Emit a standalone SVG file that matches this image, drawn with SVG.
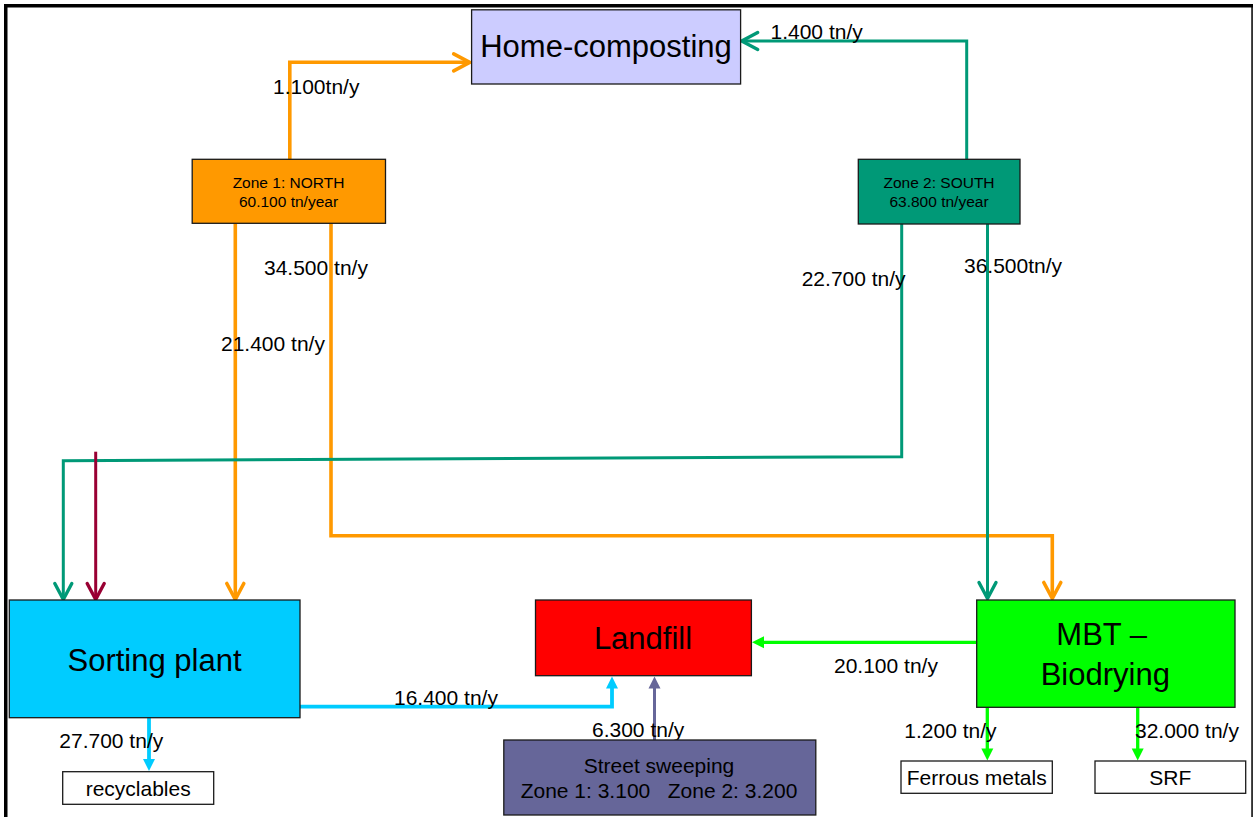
<svg xmlns="http://www.w3.org/2000/svg" width="1255" height="817" viewBox="0 0 1255 817">
  <style>
    .box { stroke: #1a1a1a; stroke-width: 1.3; }
    .t { font-family: "Liberation Sans", Arial, sans-serif; fill: #000; }
    .big { font-size: 31px; text-anchor: middle; }
    .mid { font-size: 21px; text-anchor: middle; }
    .zone { font-size: 15.5px; text-anchor: middle; }
    .lbl { font-size: 21px; }
    .flow { fill: none; stroke-linejoin: miter; }
    .orange { stroke: #FF9900; stroke-width: 3.6; }
    .teal { stroke: #009977; stroke-width: 3; }
    .wine { stroke: #990033; stroke-width: 3; }
    .cyan { stroke: #00CCFF; stroke-width: 3.8; }
    .lime { stroke: #00FF00; stroke-width: 3.3; }
    .slate { stroke: #666699; stroke-width: 3; }
  </style>
  <defs>
    <!-- open chevron heads -->
    <marker id="chev-orange" markerUnits="userSpaceOnUse" markerWidth="40" markerHeight="40" refX="0" refY="0" orient="auto" overflow="visible">
      <path d="M-14,-8.5 L2,0 L-14,8.5" fill="none" stroke="#FF9900" stroke-width="3.6" stroke-linecap="round" stroke-linejoin="round"/>
    </marker>
    <marker id="chev-teal" markerUnits="userSpaceOnUse" markerWidth="40" markerHeight="40" refX="0" refY="0" orient="auto" overflow="visible">
      <path d="M-14,-8.5 L2,0 L-14,8.5" fill="none" stroke="#009977" stroke-width="3.4" stroke-linecap="round" stroke-linejoin="round"/>
    </marker>
    <marker id="chev-wine" markerUnits="userSpaceOnUse" markerWidth="40" markerHeight="40" refX="0" refY="0" orient="auto" overflow="visible">
      <path d="M-14,-8.5 L2,0 L-14,8.5" fill="none" stroke="#990033" stroke-width="3.4" stroke-linecap="round" stroke-linejoin="round"/>
    </marker>
    <!-- filled triangle heads -->
    <marker id="tri-cyan" markerUnits="userSpaceOnUse" markerWidth="30" markerHeight="30" refX="0" refY="0" orient="auto" overflow="visible">
      <path d="M-6,-6 L6,0 L-6,6 Z" fill="#00CCFF"/>
    </marker>
    <marker id="tri-lime" markerUnits="userSpaceOnUse" markerWidth="30" markerHeight="30" refX="0" refY="0" orient="auto" overflow="visible">
      <path d="M-6,-6 L6,0 L-6,6 Z" fill="#00FF00"/>
    </marker>
    <marker id="tri-slate" markerUnits="userSpaceOnUse" markerWidth="30" markerHeight="30" refX="0" refY="0" orient="auto" overflow="visible">
      <path d="M-6,-6 L6,0 L-6,6 Z" fill="#666699"/>
    </marker>
  </defs>

  <rect x="0" y="0" width="1255" height="817" fill="#fff"/>

  <!-- outer frame -->
  <g id="frame">
    <rect x="4" y="4" width="1249" height="3.5" fill="#000"/>
    <rect x="4" y="4" width="3.5" height="813" fill="#000"/>
    <rect x="1251.3" y="6" width="1.5" height="811" fill="#000"/>
  </g>

  <!-- flows -->
  <g id="connectors">
    <path class="flow orange" d="M289.8,159.3 V62.3 H467.7" marker-end="url(#chev-orange)"/>
    <path class="flow teal" d="M966.7,159.3 V41 H743.7" marker-end="url(#chev-teal)"/>
    <path class="flow orange" d="M235.3,223.3 V597.5" marker-end="url(#chev-orange)"/>
    <path class="flow orange" d="M331,223.3 V535.8 H1052.3 V596.5" marker-end="url(#chev-orange)"/>
    <path class="flow teal" d="M901.7,224 V456.7 L63.3,460.7 V597.5" marker-end="url(#chev-teal)"/>
    <path class="flow teal" d="M987.5,224 V596.5" marker-end="url(#chev-teal)"/>
    <path class="flow wine" d="M95.7,451.7 V597.5" marker-end="url(#chev-wine)"/>
    <path class="flow lime" d="M976.7,642.3 H758" marker-end="url(#tri-lime)"/>
    <path class="flow cyan" d="M300,706.7 H612 V682.5" marker-end="url(#tri-cyan)"/>
    <path class="flow slate" d="M654.5,740 V682.5" marker-end="url(#tri-slate)"/>
    <path class="flow cyan" d="M149,717.7 V765" marker-end="url(#tri-cyan)"/>
    <path class="flow lime" d="M987.3,707.3 V754.5" marker-end="url(#tri-lime)"/>
    <path class="flow lime" d="M1137.7,707.3 V754.5" marker-end="url(#tri-lime)"/>

    <g class="t lbl">
      <text x="273" y="94">1.100tn/y</text>
      <text x="770.5" y="39">1.400 tn/y</text>
      <text x="264" y="275">34.500 tn/y</text>
      <text x="221" y="350.5">21.400 tn/y</text>
      <text x="801.7" y="286">22.700 tn/y</text>
      <text x="964" y="273.3">36.500tn/y</text>
      <text x="834" y="673.3">20.100 tn/y</text>
      <text x="394" y="705">16.400 tn/y</text>
      <text x="592" y="736.7">6.300 tn/y</text>
      <text x="59.3" y="748.3">27.700 tn/y</text>
      <text x="904.3" y="737.7">1.200 tn/y</text>
      <text x="1135" y="737.7">32.000 tn/y</text>
    </g>
  </g>

  <!-- nodes -->
  <g id="home-composting">
    <rect class="box" x="471.6" y="9.8" width="269" height="74.2" fill="#CCCCFF"/>
    <text class="t big" x="606" y="57">Home-composting</text>
  </g>
  <g id="zone-north">
    <rect class="box" x="192.2" y="159.3" width="193.3" height="64" fill="#FF9900"/>
    <text class="t zone" x="288.5" y="188.3">Zone 1: NORTH</text>
    <text class="t zone" x="288.5" y="206.7">60.100 tn/year</text>
  </g>
  <g id="zone-south">
    <rect class="box" x="858.3" y="159.3" width="161.7" height="64.7" fill="#009977"/>
    <text class="t zone" x="939" y="188.3">Zone 2: SOUTH</text>
    <text class="t zone" x="939" y="207.3">63.800 tn/year</text>
  </g>
  <g id="sorting-plant">
    <rect class="box" x="9.3" y="600" width="290.7" height="117.7" fill="#00CCFF"/>
    <text class="t big" x="154.5" y="670.7">Sorting plant</text>
  </g>
  <g id="landfill">
    <rect class="box" x="535.5" y="600" width="215.9" height="75.7" fill="#FF0000"/>
    <text class="t big" x="643" y="649">Landfill</text>
  </g>
  <g id="mbt-biodrying">
    <rect class="box" x="976.7" y="600" width="258.3" height="107.3" fill="#00FF00"/>
    <text class="t big" x="1101.7" y="645">MBT –</text>
    <text class="t big" x="1105.3" y="685">Biodrying</text>
  </g>
  <g id="street-sweeping">
    <rect class="box" x="503.8" y="740" width="312" height="75" fill="#666699"/>
    <text class="t mid" x="659" y="773.3">Street sweeping</text>
    <text class="t mid" x="659" y="798" xml:space="preserve">Zone 1: 3.100   Zone 2: 3.200</text>
  </g>
  <g id="recyclables">
    <rect class="box" x="62.7" y="771.7" width="151" height="32.6" fill="#fff"/>
    <text class="t mid" x="138.2" y="796">recyclables</text>
  </g>
  <g id="ferrous-metals">
    <rect class="box" x="901" y="761" width="151.3" height="32.3" fill="#fff"/>
    <text class="t mid" x="976.7" y="785">Ferrous metals</text>
  </g>
  <g id="srf">
    <rect class="box" x="1095" y="761" width="150.7" height="32.3" fill="#fff"/>
    <text class="t mid" x="1170.3" y="785">SRF</text>
  </g>
</svg>
